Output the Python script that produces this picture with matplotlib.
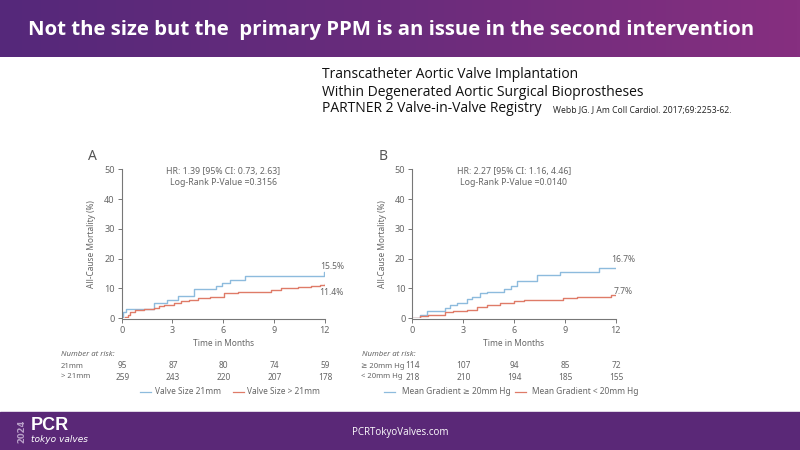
import matplotlib
matplotlib.use("Agg")
import matplotlib.pyplot as plt
import numpy as np
from matplotlib.colors import LinearSegmentedColormap

# ---------------- data ----------------
months_A_blue = [0, 0.05, 0.25, 1.9, 2.7, 3.3, 4.3, 5.6, 5.9, 6.4, 7.3, 11.95, 12.0]
vals_A_blue   = [0, 1.9, 3.1, 5.0, 6.1, 7.4, 9.6, 10.6, 11.7, 12.8, 14.1, 15.5, 15.5]
months_A_red  = [0, 0.2, 0.4, 0.5, 0.8, 1.0, 1.3, 1.9, 2.2, 2.5, 3.1, 3.5, 4.0, 4.5, 5.2, 6.05, 6.85, 7.6, 8.8, 9.4, 10.4, 11.2, 11.7, 12.0]
vals_A_red    = [0, 0.5, 1.1, 1.9, 2.6, 2.8, 3.0, 3.3, 3.9, 4.4, 5.0, 5.6, 6.1, 6.7, 7.2, 8.3, 8.7, 8.9, 9.4, 10.0, 10.3, 10.8, 11.1, 11.4]

months_B_blue = [0, 0.45, 0.85, 1.93, 2.23, 2.62, 3.2, 3.5, 4.0, 4.4, 5.4, 5.8, 6.2, 7.36, 8.7, 11.0, 12.0]
vals_B_blue   = [0, 1.1, 2.4, 3.3, 4.4, 5.0, 6.3, 7.2, 8.3, 8.9, 9.7, 10.6, 12.6, 14.6, 15.4, 16.7, 16.7]
months_B_red  = [0, 0.45, 0.95, 1.93, 2.43, 3.2, 3.8, 4.4, 5.2, 6.0, 6.6, 8.9, 9.7, 11.7, 12.0]
vals_B_red    = [0, 0.8, 1.1, 1.9, 2.4, 2.8, 3.7, 4.4, 5.2, 5.6, 6.1, 6.7, 7.2, 7.6, 7.7]

risk_times = [0, 3, 6, 9, 12]
risk_A_21 = [95, 87, 80, 74, 59]
risk_A_gt21 = [259, 243, 220, 207, 178]
risk_B_ge20 = [114, 107, 94, 85, 72]
risk_B_lt20 = [218, 210, 194, 185, 155]

end_A = ["15.5%", "11.4%"]
end_B = ["16.7%", "7.7%"]

title = "Not the size but the  primary PPM is an issue in the second intervention"
subtitle = ["Transcatheter Aortic Valve Implantation",
            "Within Degenerated Aortic Surgical Bioprostheses",
            "PARTNER 2 Valve-in-Valve Registry"]
citation = "Webb JG. J Am Coll Cardiol. 2017;69:2253-62."

BLUE = "#8dbbdd"
RED = "#df7b68"
GREY = "#777777"
TXT = "#666666"
PURPLE = "#5a2877"
FAM = ["Noto Sans", "DejaVu Sans"]

fig = plt.figure(figsize=(8, 4.5), dpi=100)
fig.patch.set_facecolor("white")

# background axes in pixel coords
bg = fig.add_axes([0, 0, 1, 1])
bg.axis("off")

# header gradient
grad = np.linspace(0, 1, 256).reshape(1, -1)
cmap = LinearSegmentedColormap.from_list("hdr", ["#55287a", "#6a2c7c", "#862f80"])
bg.imshow(grad, extent=[0, 800, 57, 0], aspect="auto", cmap=cmap, zorder=0)
bg.set_xlim(0, 800)
bg.set_ylim(450, 0)
bg.text(391, 30, title, color="white", fontsize=14.7, fontweight="bold",
        family="Open Sans", ha="center", va="center")

# subtitle
for i, s in enumerate(subtitle):
    bg.text(322, 75 + i * 17, s, fontsize=10.0, family="Open Sans", color="#111111",
            ha="left", va="center")
bg.text(553, 110, citation, fontsize=6.2, family="Open Sans", color="#222222",
        ha="left", va="center")

# footer
bg.add_patch(plt.Rectangle((0, 412), 800, 38, color=PURPLE, zorder=0))
bg.text(400, 433, "PCRTokyoValves.com", color="white", fontsize=7, family="Open Sans",
        ha="center", va="center")
bg.text(22, 431, "2024", color="#b9a0c8", fontsize=6, fontweight="bold", rotation=90,
        ha="center", va="center", family="DejaVu Sans")
bg.text(31, 425, "PCR", color="white", fontsize=13, fontweight="heavy", ha="left",
        va="center", family="Liberation Sans")
bg.text(31, 440, "tokyo valves", color="white", fontsize=6.5, style="italic", ha="left",
        va="center", family="DejaVu Sans")


def panel(left_px, right_px, letter, mb, vb, mr, vr, hr1, hr2, ends, end_y,
          rows, row_labels, legend, leg_x):
    x0 = left_px / 800
    w = (right_px - left_px) / 800
    y0 = (450 - 318) / 450
    h = (318 - 169.3) / 450
    ax = fig.add_axes([x0, y0, w, h])
    ax.step(mb, vb, where="post", color=BLUE, lw=1.0)
    ax.step(mr, vr, where="post", color=RED, lw=1.0)
    ax.set_xlim(0, 12)
    ax.set_ylim(0, 50)
    ax.set_xticks([0, 3, 6, 9, 12])
    ax.set_yticks([0, 10, 20, 30, 40, 50])
    for s in ["top", "right"]:
        ax.spines[s].set_visible(False)
    for s in ["left", "bottom"]:
        ax.spines[s].set_color(GREY)
        ax.spines[s].set_linewidth(0.8)
    ax.spines["bottom"].set_position(("outward", 1))
    ax.tick_params(colors=GREY, labelcolor=TXT, labelsize=6.5, length=3, width=0.7, pad=2)
    ax.set_ylabel("All-Cause Mortality (%)", fontsize=6, color=TXT, labelpad=6, family=FAM)
    ax.set_xlabel("Time in Months", fontsize=6, color=TXT, labelpad=3, family=FAM)
    for lab in ax.get_xticklabels() + ax.get_yticklabels():
        lab.set_family(FAM)
    ax.patch.set_alpha(0)

    cx = (left_px + right_px) / 2
    bg.text(left_px - 34, 157, letter, fontsize=10, color="#555555", family=FAM,
            ha="left", va="center")
    bg.text(cx, 171.5, hr1, fontsize=6.3, color=TXT, family=FAM, ha="center", va="center")
    bg.text(cx, 182.5, hr2, fontsize=6.3, color=TXT, family=FAM, ha="center", va="center")
    bg.text(right_px + 7, end_y[0], ends[0], fontsize=6.2, color=TXT, family=FAM,
            ha="center", va="center")
    bg.text(right_px + 7, end_y[1], ends[1], fontsize=6.2, color=TXT, family=FAM,
            ha="center", va="center")

    # number at risk
    bg.text(row_labels[0][1], 355, "Number at risk:", fontsize=5.6, color=TXT, style="italic",
            family=FAM, ha="left", va="center")
    for r, (lab, lx), yy in zip(rows, row_labels[1:], [366, 377]):
        bg.text(lx, yy, lab, fontsize=5.5, color=TXT, family=FAM, ha="left", va="center")
        for t, v in zip(risk_times, r):
            px = left_px + (right_px - left_px) * t / 12
            bg.text(px + 0.5, yy, str(v), fontsize=6.0, color=TXT, family=FAM,
                    ha="center", va="center")
    # legend
    (l1, l2) = legend
    (a1, a2, b1, b2) = leg_x
    bg.plot([a1, a1 + 11], [392, 392], color=BLUE, lw=0.9)
    bg.text(a2, 392, l1, fontsize=6, color=TXT, family=FAM, ha="left", va="center")
    bg.plot([b1, b1 + 11], [392, 392], color=RED, lw=0.9)
    bg.text(b2, 392, l2, fontsize=6, color=TXT, family=FAM, ha="left", va="center")
    return ax


panel(121.7, 324.7, "A", months_A_blue, vals_A_blue, months_A_red, vals_A_red,
      "HR: 1.39 [95% CI: 0.73, 2.63]", "Log-Rank P-Value =0.3156",
      end_A, [266.5, 292.5], [risk_A_21, risk_A_gt21],
      [("", 61), ("21mm", 61), ("> 21mm", 61)],
      ("Valve Size 21mm", "Valve Size > 21mm"), (140, 155, 233, 247))

panel(412.3, 615.7, "B", months_B_blue, vals_B_blue, months_B_red, vals_B_red,
      "HR: 2.27 [95% CI: 1.16, 4.46]", "Log-Rank P-Value =0.0140",
      end_B, [259, 291], [risk_B_ge20, risk_B_lt20],
      [("", 362), ("\u2265 20mm Hg", 361), ("< 20mm Hg", 361)],
      ("Mean Gradient \u2265 20mm Hg", "Mean Gradient < 20mm Hg"), (384, 402, 515, 532))

fig.savefig("out.png", dpi=100, facecolor="white")
